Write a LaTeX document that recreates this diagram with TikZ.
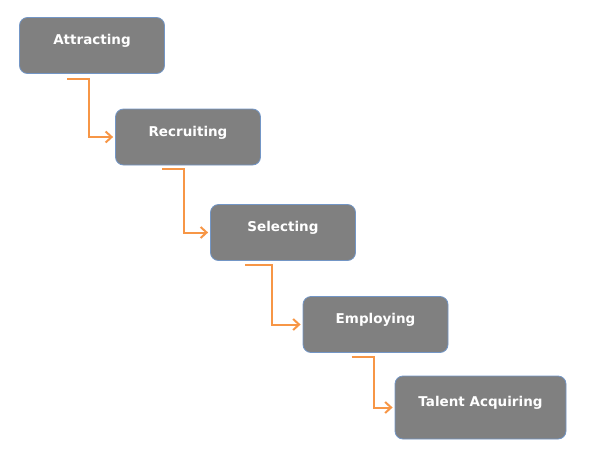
\documentclass[tikz,border=0pt]{standalone}
\usepackage{fontspec}
\setmainfont{DejaVu Sans}
\usetikzlibrary{arrows.meta, positioning}
\definecolor{colBox}{HTML}{808080}
\definecolor{colEdge}{HTML}{7396C6}
\definecolor{colArrow}{HTML}{F79646}

\begin{document}
\begin{tikzpicture}[
  x=1pt, y=-1pt,
  font=\fontsize{13.5}{15}\selectfont\bfseries,
  stage/.style={
    rounded corners=8pt, draw=colEdge, fill=colBox, line width=0.8pt,
    text=white, minimum width=145pt, minimum height=56pt,
    text height=10pt, text depth=11.5pt, inner sep=0pt
  },
  link/.style={-{Straight Barb[length=6pt,width=11pt]}, line width=2pt,
    color=colArrow, shorten >=2pt},
]

%% ============================================================
%% Frame
%% ============================================================
\useasboundingbox (0,0) rectangle (592,461);

%% ============================================================
%% Stages
%% ============================================================
\node[stage] (attract) at (92,45.5)   {Attracting};
\node[stage] (recruit) at (188,137)   {Recruiting};
\node[stage] (select)  at (283,232.5) {Selecting};
\node[stage] (employ)  at (375.5,324.5) {Employing};
\node[stage, minimum width=171pt, minimum height=63pt]
  (talent) at (480.5,407.5) {Talent Acquiring};

%% ============================================================
%% Arrows
%% ============================================================
\draw[link] ([xshift=48pt,yshift=-5pt]attract.south west) -- ++(22,0) |- (recruit.west);
\draw[link] ([xshift=47pt,yshift=-4pt]recruit.south west) -- ++(22,0) |- (select.west);
\draw[link] ([xshift=35pt,yshift=-4pt]select.south west) -- ++(27,0) |- (employ.west);
\draw[link] ([xshift=49pt,yshift=-4pt]employ.south west) -- ++(22,0) |- (talent.west);

\end{tikzpicture}
\end{document}
